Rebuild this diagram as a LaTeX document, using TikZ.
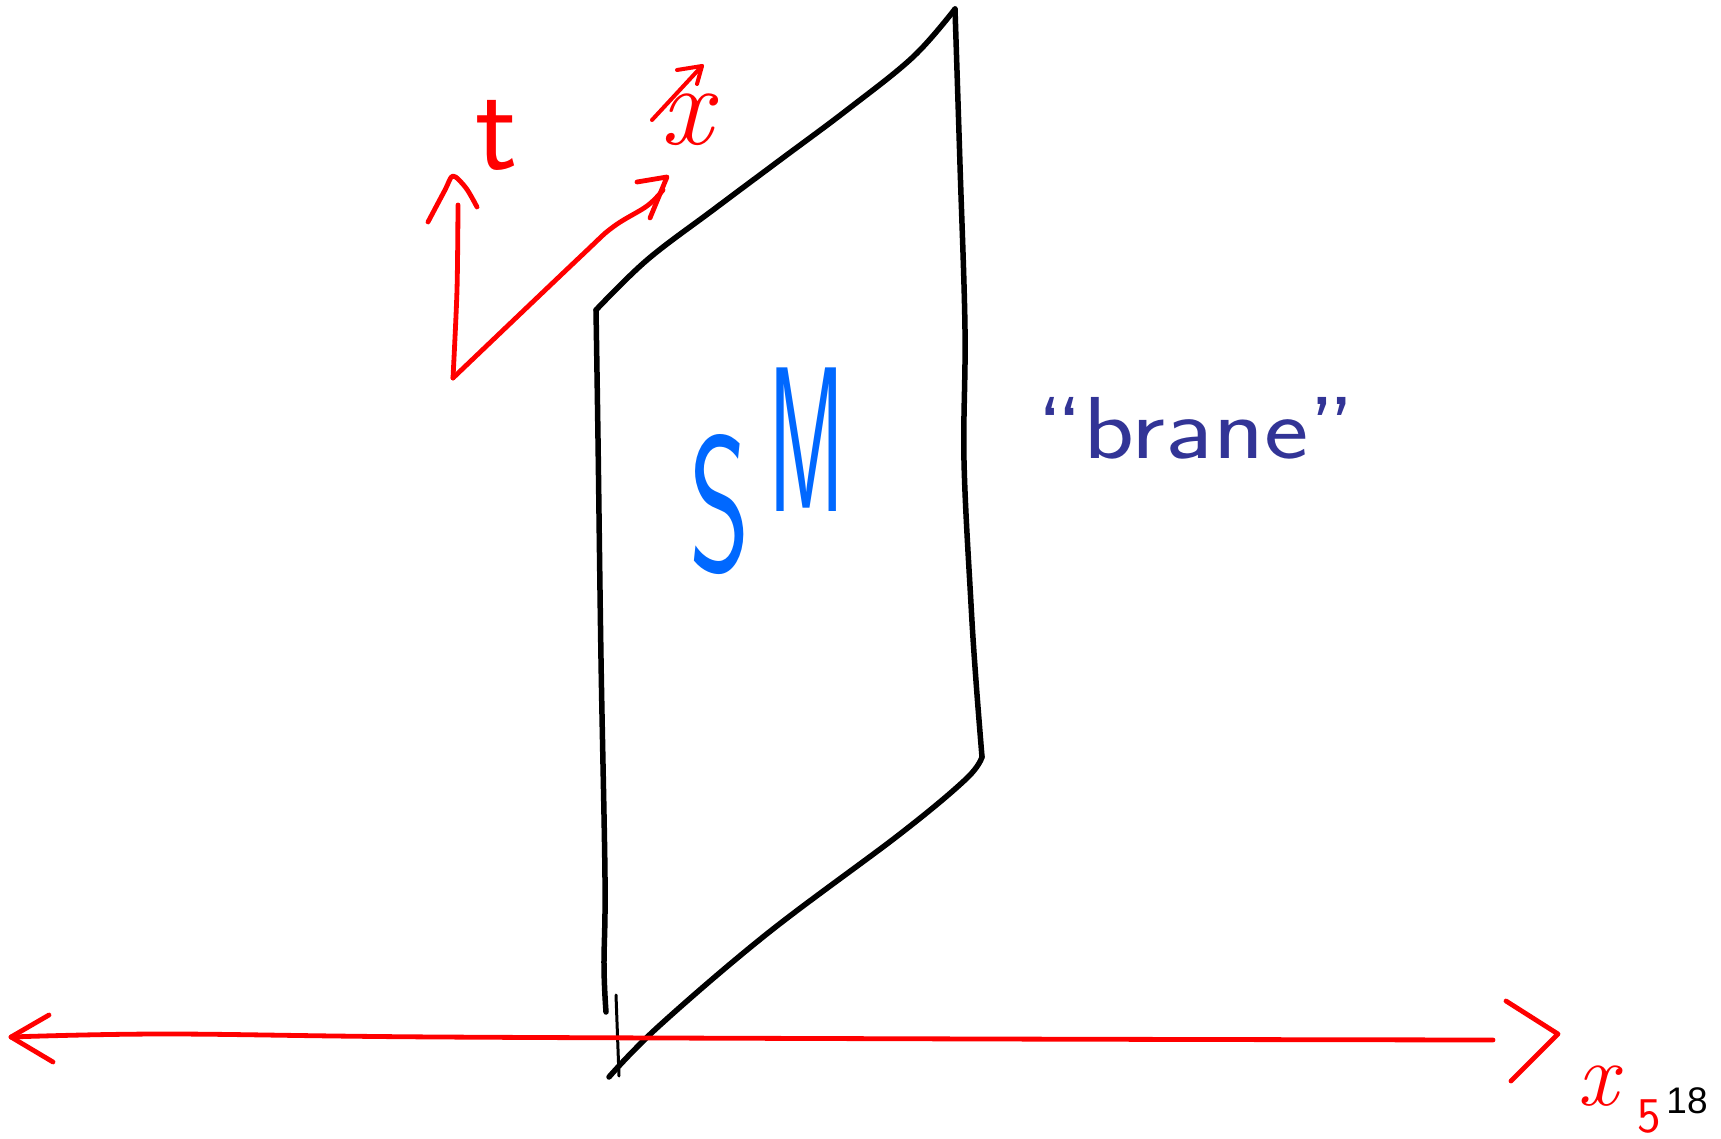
\documentclass[tikz,border=0pt]{standalone}
\usepackage{fontspec}
\usepackage{graphicx}
\newfontfamily\pagenumfont{Liberation Sans}
\definecolor{axisred}{RGB}{255,0,0}
\definecolor{smblue}{RGB}{0,104,255}
\definecolor{branenavy}{RGB}{50,52,150}
\tikzset{
  braneline/.style={black, line width=5.5pt, line cap=round, line join=round},
  thinline/.style={black, line width=3pt, line cap=round},
  axisline/.style={axisred, line width=4.8pt, line cap=round, line join=round},
  lbl/.style={inner sep=0pt, outer sep=0pt}
}
\begin{document}
\begin{tikzpicture}[x=1pt,y=-1pt]
\useasboundingbox[fill=white] (0,0) rectangle (1721,1139);

% brane corners
\coordinate (tl) at (596,310);
\coordinate (tr) at (955,9);
\coordinate (br) at (982,757);
\coordinate (bl) at (609,1077);
\coordinate (lb) at (606,1012);
\coordinate (ticktop) at (616,995);
\coordinate (tickbot) at (619,1076);

% brane outline
\draw[braneline] plot[smooth, tension=0.6] coordinates {(tl) (647,260) (713,210) (780,160) (847,110) (913,57) (tr)};
\draw[braneline] plot[smooth, tension=0.6] coordinates {(tr) (960,165) (965,330) (964,461) (971,604) (976,681) (br)};
\draw[braneline] plot[smooth, tension=0.6] coordinates {(br) (966,779) (900,834) (768,933) (659,1026) (bl)};
\draw[braneline] plot[smooth, tension=0.6] coordinates {(tl) (598,439) (601,659) (605,878) (604,966) (lb)};
\draw[thinline] (ticktop) -- (tickbot);

% x5 axis
\coordinate (xl) at (11,1037);
\coordinate (xr) at (1493,1040);
\coordinate (xlA) at (49,1015);
\coordinate (xlB) at (53,1062);
\coordinate (xrT) at (1558,1034);
\coordinate (xrA) at (1506,1001);
\coordinate (xrB) at (1511,1081);
\draw[axisline] plot[smooth, tension=0.6] coordinates {(xl) (165,1034) (439,1037) (988,1039) (xr)};
\draw[axisline] (xlA) -- (xl) -- (xlB);
\draw[axisline] (xrA) -- (xrT) -- (xrB);

% t axis and x axis
\coordinate (o) at (453,378);
\coordinate (tt) at (458,205);
\coordinate (ttip) at (453,176);
\coordinate (tA) at (428,222);
\coordinate (tB) at (477,207);
\draw[axisline] plot[smooth, tension=0.5] coordinates {(o) (457,290) (tt)};
\draw[axisline] plot[smooth, tension=0.5] coordinates {(tA) (445,190) (ttip) (466,188) (tB)};
\coordinate (xe) at (663,190);
\coordinate (xtip) at (667,177);
\coordinate (xA) at (637,182);
\coordinate (xB) at (650,218);
\draw[axisline] plot[smooth, tension=0.6] coordinates {(o) (580,257) (613,227) (647,206) (xe)};
\draw[axisline] (xA) -- (xtip) -- (xB);

% labels
\node[lbl, text=axisred] (tlabel) at (497,135) {\fontsize{125}{125}\selectfont\sffamily t};
\node[lbl, text=axisred] (xlabel) at (686,120) {\fontsize{115}{115}\selectfont\itshape x};
\coordinate (vs) at (652,120);
\coordinate (ve) at (702,66);
\coordinate (vA) at (677,70);
\coordinate (vB) at (697,84);
\draw[axisline, line width=4pt] (vs) -- (ve);
\draw[axisline, line width=4pt] (vA) -- (ve) -- (vB);

\node[lbl, text=smblue] (S) at (720,505) {\scalebox{0.6}[1]{\fontsize{193}{193}\selectfont\sffamily S}};
\node[lbl, text=smblue] (M) at (807,440) {\scalebox{0.45}[1]{\fontsize{207}{207}\selectfont\sffamily M}};

\node[lbl, text=branenavy] (brane) at (1196,428) {\scalebox{1.2}[1]{\fontsize{88}{88}\selectfont\sffamily ``brane''}};

\node[lbl, text=axisred] (x5) at (1598,1086) {\fontsize{90}{90}\selectfont\itshape x};
\node[lbl, text=axisred] (x5sub) at (1649,1116) {\fontsize{50}{50}\selectfont\sffamily 5};
\node[lbl] (pagenum) at (1687,1101) {\fontsize{37}{37}\selectfont\pagenumfont 18};
\end{tikzpicture}
\end{document}
